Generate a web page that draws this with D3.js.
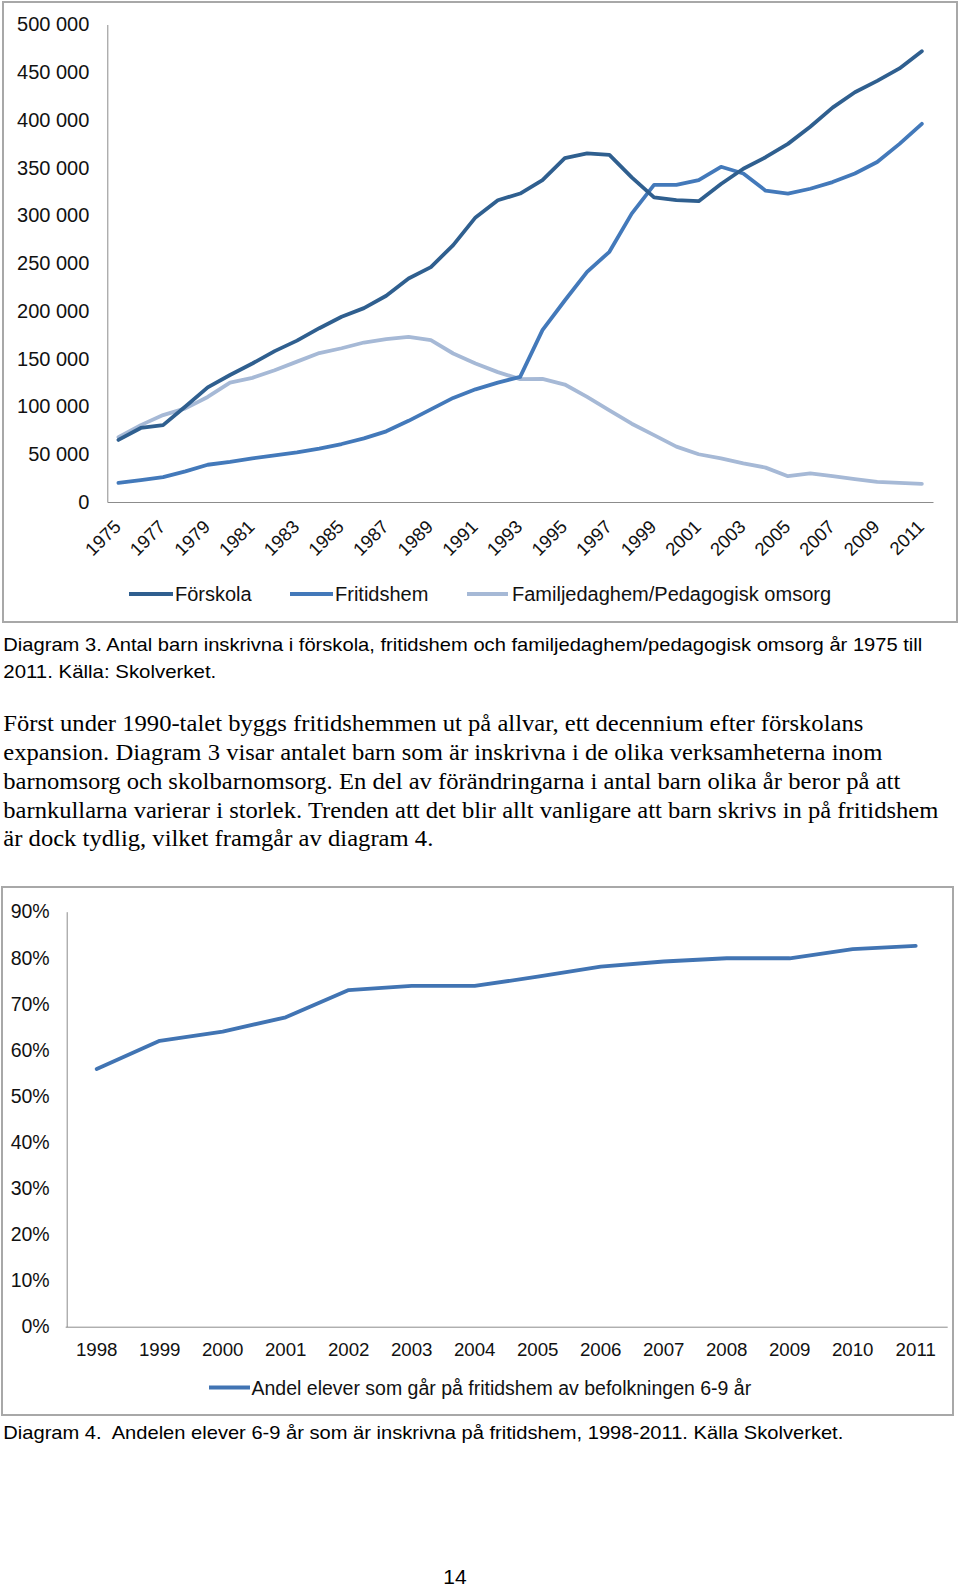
<!DOCTYPE html>
<html><head><meta charset="utf-8">
<script src="https://cdn.jsdelivr.net/npm/d3@7"></script>
<style>
body{margin:0;background:#fff}
svg{display:block}
text{white-space:pre}
</style>
</head><body>
<svg id="page" width="960" height="1589"></svg>
<script>
// ---------- DATA ----------
const years1 = [1975,1976,1977,1978,1979,1980,1981,1982,1983,1984,1985,1986,1987,1988,1989,1990,1991,1992,1993,1994,1995,1996,1997,1998,1999,2000,2001,2002,2003,2004,2005,2006,2007,2008,2009,2010,2011];
const forskola = [65000,77500,80500,100000,120000,133000,145000,158000,169000,182000,194000,203000,216000,234000,246000,269000,298000,316000,323000,337000,360000,365000,363500,340000,319000,316000,315000,333000,349000,361000,375000,393000,413000,429000,441000,454000,472000];
const fritidshem = [20000,23000,26000,32000,39000,42000,45700,48800,52000,56000,60700,66600,74000,85000,97000,109000,118000,125000,131000,180000,211000,241000,262000,302000,332000,332000,337000,351000,344000,326000,323000,328000,335000,344000,356000,375000,396000];
const familj = [68000,80500,91000,98000,110000,125000,130000,138000,147000,156000,161000,167000,170500,173000,169500,155500,145000,136000,128700,129000,123000,110000,96000,82000,70000,58000,50000,45700,40500,36000,27000,30000,27000,24000,21000,20000,19000];
const seriesNames1 = ["Förskola","Fritidshem","Familjedaghem/Pedagogisk omsorg"];
const yTicks1 = [0,50000,100000,150000,200000,250000,300000,350000,400000,450000,500000];
const xTickYears1 = [1975,1977,1979,1981,1983,1985,1987,1989,1991,1993,1995,1997,1999,2001,2003,2005,2007,2009,2011];

const years2 = [1998,1999,2000,2001,2002,2003,2004,2005,2006,2007,2008,2009,2010,2011];
const andel = [0.559,0.620,0.640,0.671,0.730,0.739,0.739,0.759,0.781,0.792,0.799,0.799,0.819,0.826];
const seriesName2 = "Andel elever som går på fritidshem av befolkningen 6-9 år";
const yTicks2 = [0,0.1,0.2,0.3,0.4,0.5,0.6,0.7,0.8,0.9];

const caption1 = ["Diagram 3. Antal barn inskrivna i förskola, fritidshem och familjedaghem/pedagogisk omsorg år 1975 till","2011. Källa: Skolverket."];
const bodyLines = [
 "Först under 1990-talet byggs fritidshemmen ut på allvar, ett decennium efter förskolans",
 "expansion. Diagram 3 visar antalet barn som är inskrivna i de olika verksamheterna inom",
 "barnomsorg och skolbarnomsorg. En del av förändringarna i antal barn olika år beror på att",
 "barnkullarna varierar i storlek. Trenden att det blir allt vanligare att barn skrivs in på fritidshem",
 "är dock tydlig, vilket framgår av diagram 4."];
const caption2 = "Diagram 4.  Andelen elever 6-9 år som är inskrivna på fritidshem, 1998-2011. Källa Skolverket.";
const pageNumber = "14";

// ---------- STYLE ----------
const SANS = "'Liberation Sans', Arial, Helvetica, sans-serif";
const SERIF = "'Liberation Serif', 'Times New Roman', Times, serif";
const colors1 = ["#2f5f8f","#4379ba","#a6b9d6"];
const color2 = "#4174b3";
const axisColor = "#8c8c8c";

const svg = d3.select("#page");

// ---------- FRAMES ----------
svg.append("rect").attr("x",3).attr("y",2).attr("width",954).attr("height",620)
  .attr("fill","none").attr("stroke","#a8a8a8").attr("stroke-width",2);
svg.append("rect").attr("x",2).attr("y",887).attr("width",951).attr("height",528)
  .attr("fill","none").attr("stroke","#a8a8a8").attr("stroke-width",2);

// ---------- CHART 1 ----------
const fmt = d3.formatLocale({decimal:",",thousands:" ",grouping:[3],currency:["",""]}).format(",");
const x1 = d3.scaleBand().domain(years1).range([107.3,933]).padding(0);
const y1 = d3.scaleLinear().domain([0,500000]).range([502,24.5]);
const cx1 = d => x1(d) + x1.bandwidth()/2;

const g1 = svg.append("g");
const ya1 = g1.append("g").attr("transform","translate(107.3,0)")
  .call(d3.axisLeft(y1).tickValues(yTicks1).tickFormat(fmt).tickSize(0).tickPadding(18));
ya1.select(".domain").attr("stroke",axisColor);
ya1.selectAll("text").attr("font-family",SANS).attr("font-size",20).attr("fill","#111");

const xa1 = g1.append("g").attr("transform","translate(0,502)")
  .call(d3.axisBottom(x1).tickValues(xTickYears1).tickSize(0).tickSizeOuter(0));
xa1.select(".domain").attr("stroke",axisColor);
xa1.selectAll("text").attr("font-family",SANS).attr("font-size",18.5).attr("fill","#111")
  .attr("x",0).attr("y",0).attr("dy",0)
  .attr("text-anchor","end")
  .attr("transform","translate(3.5,26) rotate(-45)");

const series1 = [forskola, fritidshem, familj];
const line1 = d3.line().x((d,i)=>cx1(years1[i])).y(d=>y1(d));
[2,1,0].forEach(k=>{
  g1.append("path").datum(series1[k]).attr("d",line1)
    .attr("fill","none").attr("stroke",colors1[k]).attr("stroke-width",3.8)
    .attr("stroke-linejoin","round").attr("stroke-linecap","round");
});

// legend 1
const legendPos1 = [{x0:129,x1:173,tx:175},{x0:290,x1:333,tx:335},{x0:467,x1:508,tx:512}];
seriesNames1.forEach((name,k)=>{
  const p = legendPos1[k];
  g1.append("line").attr("x1",p.x0).attr("x2",p.x1).attr("y1",594).attr("y2",594)
    .attr("stroke",colors1[k]).attr("stroke-width",4);
  g1.append("text").attr("x",p.tx).attr("y",601).text(name)
    .attr("font-family",SANS).attr("font-size",20).attr("fill","#111");
});

// ---------- TEXT BLOCKS ----------
function fitLines(lines, xs, baselines, widths, family, size, color){
  lines.forEach((t,i)=>{
    const el = svg.append("text").attr("x",xs).attr("y",baselines[i]).text(t)
      .attr("font-family",family).attr("font-size",size).attr("fill",color);
    if (widths[i]) {
      el.attr("textLength",widths[i]).attr("lengthAdjust","spacingAndGlyphs");
    }
  });
}
fitLines(caption1, 3.3, [651,678], [919,213], SANS, 18.5, "#000");
fitLines(bodyLines, 3.3, [731,760,788.5,817.5,846], [860,879,897,935,430], SERIF, 22.5, "#000");
fitLines([caption2], 3.3, [1439], [840], SANS, 18.5, "#000");

svg.append("text").attr("x",455).attr("y",1584).attr("text-anchor","middle")
  .attr("font-family",SANS).attr("font-size",21).attr("fill","#000").text(pageNumber);

// ---------- CHART 2 ----------
const x2 = d3.scaleBand().domain(years2).range([65.2,947.2]).padding(0);
const y2 = d3.scaleLinear().domain([0,0.9]).range([1326.7,911.7]);
const cx2 = d => x2(d) + x2.bandwidth()/2;
const g2 = svg.append("g");
const ya2 = g2.append("g").attr("transform","translate(66.7,0)")
  .call(d3.axisLeft(y2).tickValues(yTicks2).tickFormat(d3.format(".0%")).tickSize(0).tickPadding(17));
ya2.select(".domain").attr("stroke",axisColor);
ya2.selectAll("text").attr("font-family",SANS).attr("font-size",19.5).attr("fill","#111");

const xa2 = g2.append("g").attr("transform","translate(0,1326.7)")
  .call(d3.axisBottom(x2).tickSize(0).tickSizeOuter(0).tickPadding(16));
xa2.select(".domain").attr("stroke",axisColor);
xa2.selectAll("text").attr("font-family",SANS).attr("font-size",18.7).attr("fill","#111");

const line2 = d3.line().x((d,i)=>cx2(years2[i])).y(d=>y2(d));
g2.append("path").datum(andel).attr("d",line2)
  .attr("fill","none").attr("stroke",color2).attr("stroke-width",3.8)
  .attr("stroke-linejoin","round").attr("stroke-linecap","round");

g2.append("line").attr("x1",209).attr("x2",250).attr("y1",1387.5).attr("y2",1387.5)
  .attr("stroke",color2).attr("stroke-width",4);
g2.append("text").attr("x",251.5).attr("y",1394.5).text(seriesName2)
  .attr("font-family",SANS).attr("font-size",19.5).attr("fill","#111");
</script>
</body></html>
